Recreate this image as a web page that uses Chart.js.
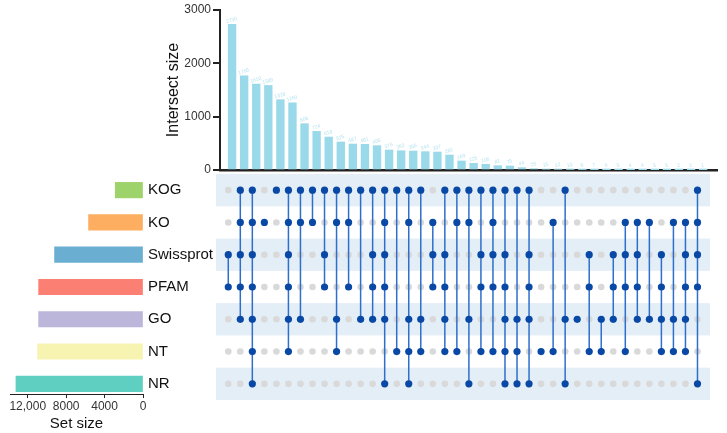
<!DOCTYPE html>
<html>
<head>
<meta charset="utf-8">
<script src="https://cdn.jsdelivr.net/npm/chart.js@4.4.1/dist/chart.umd.min.js"></script>
<style>
  body { margin: 0; background: #fff; }
  #wrap { position: relative; width: 727px; height: 433px; overflow: hidden; }
  canvas { position: absolute; }
</style>
</head>
<body>
<div id="wrap">
  <canvas id="matrix" width="517" height="240" style="left:210px; top:170px"></canvas>
  <canvas id="bars" width="577" height="190" style="left:150px; top:0px"></canvas>
  <canvas id="sets" width="220" height="263" style="left:0px; top:170px"></canvas>
</div>
<script>
// sets, top to bottom
var setNames = ['KOG', 'KO', 'Swissprot', 'PFAM', 'GO', 'NT', 'NR'];
var setSizes = [2890, 5670, 9210, 10870, 10870, 10980, 13230];
var setColors = ['#9dd36a', '#fdae61', '#6aaed2', '#fb7f72', '#bcb6da', '#f7f3b1', '#5ecfc0'];
var setTicks = [0, 4000, 8000, 12000];
var setTickLabels = ['0', '4000', '8000', '12,000'];
var sizeTicks = [0, 1000, 2000, 3000];

// intersections, left to right
var intersectSizes = [2730, 1765, 1610, 1585, 1318, 1260, 868, 724, 618, 525,
                      487, 481, 456, 375, 362, 356, 344, 337, 281, 169,
                      125, 106, 81, 75, 44, 25, 15, 12, 10, 8,
                      7, 6, 5, 4, 4, 3, 3, 2, 2, 1];
var combos = [
  ['Swissprot', 'PFAM'],
  ['KOG', 'KO', 'Swissprot', 'PFAM', 'GO'],
  ['KOG', 'KO', 'Swissprot', 'PFAM', 'GO', 'NT', 'NR'],
  ['KO'],
  ['KOG'],
  ['KOG', 'KO', 'Swissprot', 'PFAM', 'GO', 'NT'],
  ['KOG', 'KO', 'GO'],
  ['KOG', 'KO'],
  ['KOG', 'Swissprot', 'PFAM'],
  ['KOG', 'KO', 'GO', 'NT'],
  ['KOG', 'KO', 'PFAM'],
  ['KOG', 'GO'],
  ['KOG', 'Swissprot', 'PFAM', 'GO'],
  ['KOG', 'KO', 'Swissprot', 'PFAM', 'GO', 'NR'],
  ['KOG', 'NT'],
  ['KOG', 'KO', 'GO', 'NT', 'NR'],
  ['KOG', 'GO', 'NT'],
  ['KO', 'Swissprot', 'PFAM'],
  ['KOG', 'Swissprot', 'PFAM', 'GO', 'NT'],
  ['KOG', 'KO', 'NT'],
  ['KOG', 'KO', 'GO', 'NR'],
  ['KOG', 'Swissprot', 'PFAM', 'NT'],
  ['KOG', 'KO', 'Swissprot', 'PFAM', 'NT'],
  ['KOG', 'Swissprot', 'PFAM', 'GO', 'NT', 'NR'],
  ['KOG', 'GO', 'NT', 'NR'],
  ['KOG', 'Swissprot', 'PFAM', 'GO', 'NR'],
  ['NT'],
  ['KO', 'NT'],
  ['KOG', 'GO', 'NR'],
  ['GO'],
  ['Swissprot', 'PFAM', 'NT'],
  ['GO', 'NT'],
  ['Swissprot', 'PFAM', 'GO'],
  ['KO', 'Swissprot', 'PFAM', 'NT'],
  ['KO', 'Swissprot', 'PFAM', 'GO'],
  ['KO', 'GO'],
  ['Swissprot', 'PFAM', 'GO', 'NT'],
  ['KO', 'GO', 'NT'],
  ['KO', 'Swissprot', 'PFAM', 'GO', 'NT'],
  ['KOG', 'KO', 'Swissprot', 'PFAM', 'NR']
];

Chart.defaults.font.family = '"Liberation Sans", Arial, sans-serif';
Chart.defaults.color = '#333';

// small value labels over the bars
var valueLabels = {
  id: 'valueLabels',
  afterDatasetsDraw: function (chart) {
    var ctx = chart.ctx;
    var meta = chart.getDatasetMeta(0);
    ctx.save();
    ctx.fillStyle = '#b4e2ee';
    ctx.font = '5px "Liberation Sans", Arial, sans-serif';
    ctx.textAlign = 'center';
    meta.data.forEach(function (bar, i) {
      ctx.save();
      ctx.translate(bar.x, bar.y - 3);
      ctx.rotate(-0.3);
      ctx.fillText(intersectSizes[i], 0, 0);
      ctx.restore();
    });
    ctx.restore();
  }
};

new Chart(document.getElementById('bars'), {
  type: 'bar',
  data: {
    datasets: [{
      data: intersectSizes.map(function (v, i) { return { x: i, y: v }; }),
      backgroundColor: '#9ad9e9',
      barThickness: 7.7
    }]
  },
  options: {
    responsive: false,
    animation: false,
    layout: { padding: { top: 10, right: 10 } },
    plugins: { legend: { display: false }, tooltip: { enabled: false } },
    scales: {
      x: {
        type: 'linear', min: -1, max: 40.15, offset: false,
        grid: { display: false },
        border: { display: true, color: '#222', width: 2.5 },
        ticks: { display: false },
        afterFit: function (s) { s.height = 20; }
      },
      y: {
        min: 0, max: 3000,
        afterBuildTicks: function (s) { s.ticks = sizeTicks.map(function (v) { return { value: v }; }); },
        ticks: { font: { size: 12 }, color: '#333', padding: 2, callback: function (v) { return String(v); } },
        grid: { drawOnChartArea: false, tickLength: 7, color: '#222', lineWidth: 2 },
        border: { color: '#222', width: 2 },
        title: { display: true, text: 'Intersect size', font: { size: 16 }, color: '#111', padding: { top: 14, bottom: 0 } },
        afterFit: function (s) { s.width = 70; }
      }
    }
  },
  plugins: [valueLabels]
});

new Chart(document.getElementById('sets'), {
  type: 'bar',
  data: {
    datasets: [{
      data: setNames.map(function (n, i) { return { x: setSizes[i], y: i }; }),
      backgroundColor: setColors,
      barThickness: 15.5
    }]
  },
  options: {
    indexAxis: 'y',
    responsive: false,
    animation: false,
    layout: { padding: { left: 10, top: 4 } },
    plugins: { legend: { display: false }, tooltip: { enabled: false } },
    scales: {
      x: {
        type: 'linear', reverse: true, min: 0, max: 13850,
        afterBuildTicks: function (s) { s.ticks = setTicks.map(function (v) { return { value: v }; }); },
        ticks: {
          font: { size: 12 }, color: '#333', padding: 1,
          callback: function (v) { return setTickLabels[setTicks.indexOf(v)]; }
        },
        grid: { drawOnChartArea: false, tickLength: 4, color: '#222' },
        border: { color: '#222', width: 1 },
        title: { display: true, text: 'Set size', font: { size: 15 }, color: '#111', padding: 0 },
        afterFit: function (s) { s.height = 39; s.paddingLeft = 0; s.paddingRight = 0; }
      },
      y: {
        type: 'linear', reverse: true, position: 'right', min: -0.5, max: 6.316, offset: false,
        afterBuildTicks: function (s) { s.ticks = setNames.map(function (n, i) { return { value: i }; }); },
        ticks: {
          font: { size: 15 }, color: '#111', padding: 5,
          callback: function (v) { return setNames[v]; }
        },
        grid: { display: false, drawTicks: false },
        border: { display: false },
        afterFit: function (s) { s.width = 77; s.paddingTop = 0; s.paddingBottom = 0; }
      }
    }
  }
});

// matrix of dots
var dotsOn = [], dotsOff = [], links = [];
combos.forEach(function (c, i) {
  var rows = c.map(function (n) { return setNames.indexOf(n); });
  setNames.forEach(function (n, r) {
    (rows.indexOf(r) >= 0 ? dotsOn : dotsOff).push({ x: i, y: r });
  });
  links.push({ x: i, y: Math.min.apply(null, rows) });
  links.push({ x: i, y: Math.max.apply(null, rows) });
  links.push({ x: i, y: null });
});

var stripes = {
  id: 'stripes',
  beforeDatasetsDraw: function (chart) {
    var ctx = chart.ctx, a = chart.chartArea, y = chart.scales.y;
    ctx.save();
    ctx.fillStyle = '#e4eef7';
    setNames.forEach(function (n, r) {
      if (r % 2) return;
      var t = y.getPixelForValue(r - 0.5), b = y.getPixelForValue(r + 0.5);
      ctx.fillRect(a.left, Math.min(t, b), a.width, Math.abs(b - t));
    });
    ctx.restore();
  }
};

new Chart(document.getElementById('matrix'), {
  type: 'scatter',
  data: {
    datasets: [
      { data: dotsOn, backgroundColor: '#0a48a6', borderWidth: 0, pointRadius: 3.6, order: 0 },
      { data: links, showLine: true, spanGaps: false, borderColor: '#2f6fcc', borderWidth: 1.5, pointRadius: 0, order: 1 },
      { data: dotsOff, backgroundColor: '#d9d9d9', borderWidth: 0, pointRadius: 3.3, order: 2 }
    ]
  },
  options: {
    responsive: false,
    animation: false,
    layout: { padding: { left: 6, right: 17, top: 4, bottom: 10 } },
    plugins: { legend: { display: false }, tooltip: { enabled: false } },
    scales: {
      x: { type: 'linear', min: -1.02, max: 40.04, display: false },
      y: { type: 'linear', min: -0.5, max: 6.5, reverse: true, display: false }
    }
  },
  plugins: [stripes]
});
</script>
</body>
</html>
